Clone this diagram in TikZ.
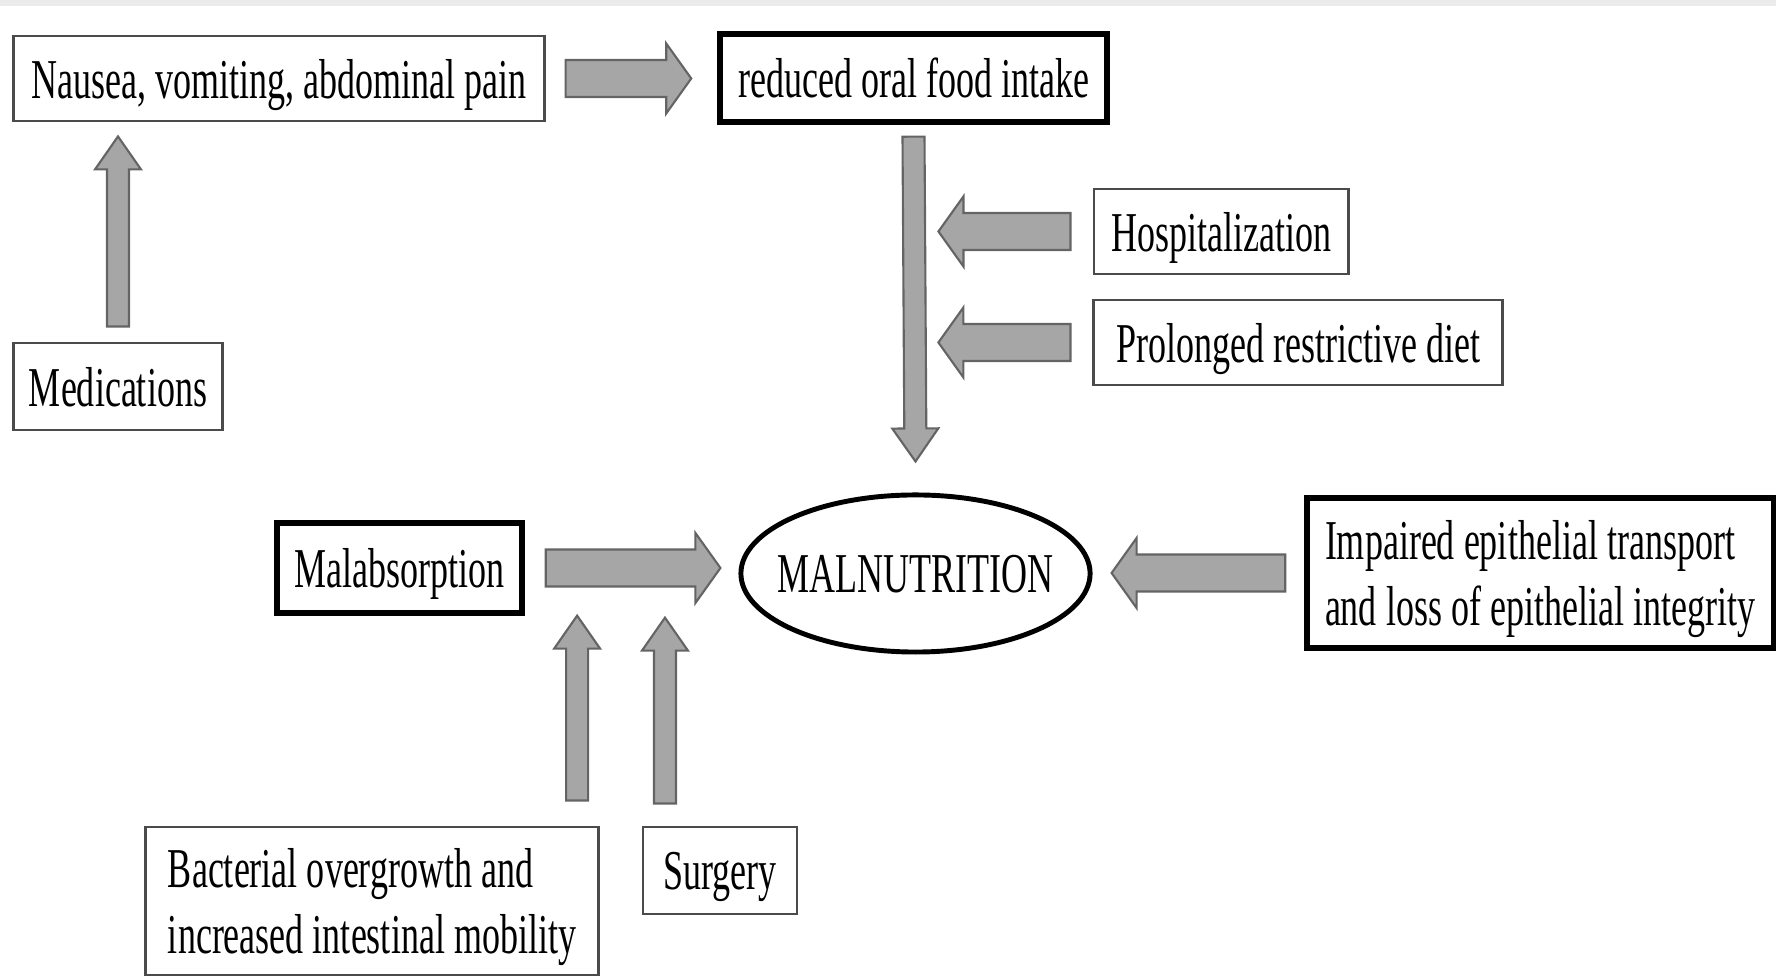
\documentclass[tikz,border=0pt]{standalone}
\usepackage{fontspec}
\setmainfont[FakeStretch=0.64]{Liberation Serif}
\usetikzlibrary{positioning, calc, shapes.geometric}
\definecolor{arrowFill}{RGB}{166,166,166}
\definecolor{arrowEdge}{RGB}{100,100,100}
\definecolor{boxEdge}{RGB}{75,75,75}
\definecolor{bandColor}{RGB}{235,235,235}
\tikzstyle{pixels} = [x = 0.01cm, y = -0.01cm]
\tikzstyle{boxText} = [font=\fontsize{16}{18.5}\selectfont, text=black, text depth=0pt]
\tikzstyle{thinBox} = [draw=boxEdge, line width=0.8pt, fill=white, boxText, inner sep=0pt]
\tikzstyle{thickBox} = [thinBox, draw=black, line width=1.5pt]
\tikzstyle{ovalBox} = [ellipse, draw=black, line width=1.4pt, boxText, inner sep=0pt]
\tikzset{blockArrow/.style n args={3}{draw=arrowEdge, fill=arrowFill, line width=0.6pt, line join=miter, to path={
  ($(\tikztostart)!#1!90:(\tikztotarget)$) -- ($(\tikztotarget)!#3!(\tikztostart)!#1!90:(\tikztotarget)$)
  -- ($(\tikztotarget)!#3!(\tikztostart)!#2!90:(\tikztotarget)$) -- (\tikztotarget)
  -- ($(\tikztotarget)!#3!(\tikztostart)!#2!-90:(\tikztotarget)$) -- ($(\tikztotarget)!#3!(\tikztostart)!#1!-90:(\tikztotarget)$)
  -- ($(\tikztostart)!#1!-90:(\tikztotarget)$) -- cycle}}}
\tikzstyle{wideArrow} = [blockArrow={0.185cm}{0.35cm}{0.25cm}]
\tikzstyle{slimArrow} = [blockArrow={0.11cm}{0.23cm}{0.33cm}]

\begin{document}
\begin{tikzpicture}[pixels]
        \useasboundingbox (0,0) rectangle (1776,977);
        \fill [bandColor] (0,0) rectangle (1776,6);

        \node [thinBox, minimum width=5.30cm, minimum height=0.85cm] (nausea) at (279,78.5) {Nausea, vomiting, abdominal pain};
        \node [thickBox, minimum width=3.87cm, minimum height=0.88cm] (intake) at (913.5,78) {reduced oral food intake};
        \node [thinBox, minimum width=2.54cm, minimum height=0.85cm] (hospital) at (1221,231.5) {Hospitalization};
        \node [thinBox, minimum width=4.08cm, minimum height=0.85cm] (diet) at (1298,342.5) {Prolonged restrictive diet};
        \node [thinBox, minimum width=2.09cm, minimum height=0.87cm] (medication) at (118,386.5) {Medications};
        \node [ovalBox, minimum width=3.49cm, minimum height=1.57cm] (malnutrition) at (915.5,573.5) {\makebox[0pt]{MALNUTRITION}};
        \node [thickBox, minimum width=2.45cm, minimum height=0.90cm] (malabsorption) at (399.5,568) {Malabsorption};
        \node [thickBox, minimum width=4.66cm, minimum height=1.50cm, align=left] (epithelium) at (1540,573) {Impaired epithelial transport\\and loss of epithelial integrity};
        \node [thinBox, minimum width=4.52cm, minimum height=1.48cm, align=left] (bacteria) at (372,901) {Bacterial overgrowth and\\increased intestinal mobility};
        \node [thinBox, minimum width=1.54cm, minimum height=0.87cm] (surgery) at (720,870.5) {Surgery};

        \coordinate (nauseaOut) at ([xshift=0.2cm]nausea.east);
        \coordinate (intakeIn) at ([xshift=-0.26cm]intake.west |- nauseaOut);
        \coordinate (intakeOut) at ([yshift=-0.12cm]intake.south);
        \coordinate (malnutritionTop) at ([yshift=0.31cm]malnutrition.north);
        \coordinate (hospitalOut) at ([xshift=-0.22cm]hospital.west);
        \coordinate (hospitalIn) at ([xshift=-1.32cm]hospitalOut);
        \coordinate (dietOut) at ([xshift=-0.22cm]diet.west);
        \coordinate (dietIn) at ([xshift=-1.32cm]dietOut);
        \coordinate (medicationOut) at ([yshift=0.15cm]medication.north);
        \coordinate (nauseaIn) at ([yshift=-0.14cm]medicationOut |- nausea.south);
        \coordinate (malabsorptionOut) at ([xshift=0.21cm]malabsorption.east);
        \coordinate (malnutritionLeft) at ([xshift=-0.18cm]malnutrition.west |- malabsorptionOut);
        \coordinate (epitheliumOut) at ([xshift=-0.19cm]epithelium.west);
        \coordinate (malnutritionRight) at ([xshift=0.19cm]malnutrition.east |- epitheliumOut);
        \coordinate (bacteriaOut) at ([xshift=2.05cm, yshift=0.25cm]bacteria.north);
        \coordinate (bacteriaIn) at (bacteriaOut |- malabsorption.south);
        \coordinate (surgeryOut) at ([xshift=-0.55cm, yshift=0.22cm]surgery.north);
        \coordinate (surgeryIn) at ([yshift=-0.02cm]surgeryOut |- malabsorption.south);

        \draw [wideArrow] (nauseaOut) to (intakeIn);
        \draw [slimArrow] (intakeOut) to (malnutritionTop);
        \draw [wideArrow] (hospitalOut) to (hospitalIn);
        \draw [wideArrow] (dietOut) to (dietIn);
        \draw [slimArrow] (medicationOut) to (nauseaIn);
        \draw [wideArrow] (malabsorptionOut) to (malnutritionLeft);
        \draw [wideArrow] (epitheliumOut) to (malnutritionRight);
        \draw [slimArrow] (bacteriaOut) to (bacteriaIn);
        \draw [slimArrow] (surgeryOut) to (surgeryIn);
      \end{tikzpicture}
\end{document}
